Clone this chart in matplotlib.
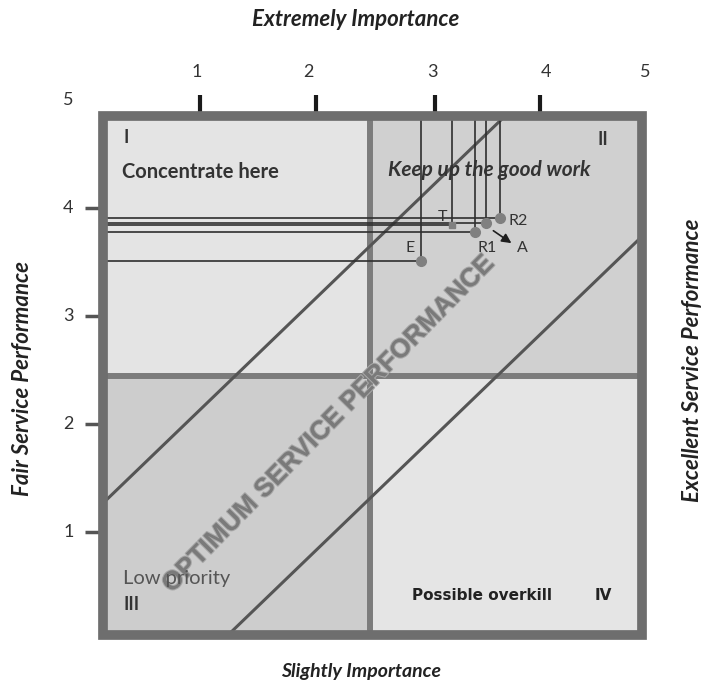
import matplotlib
matplotlib.use("Agg")
import matplotlib.pyplot as plt
import matplotlib.patheffects as pe
from matplotlib.patches import Rectangle

plt.rcParams['font.family'] = ['Lato', 'DejaVu Sans']

# quadrant split (importance, performance)
x_split = 2.48
y_split = 2.5

# diagonal band edges: performance = importance + offset
band_offsets = [1.27, -1.16]

# service points
point_names = ['E', 'T', 'R1', 'A', 'R2']
point_x = [2.95, 3.24, 3.45, 3.55, 3.68]
point_y = [3.60, 3.95, 3.88, 3.97, 4.02]
point_marker = ['o', 's', 'o', 'o', 'o']
label_x = [2.85, 3.15, 3.56, 3.89, 3.85]
label_y = [3.73, 4.03, 3.73, 3.73, 3.99]
arrow_from = (3.60, 3.91)
arrow_to = (3.81, 3.76)

# axis ticks
top_ticks = [0.90, 1.98, 3.08, 4.05]
top_label_pos = [0.87, 1.91, 3.06, 4.11, 5.03]
top_labels = ['1', '2', '3', '4', '5']
left_ticks = [0.99, 2.03, 3.07, 4.11]
left_label_pos = [0.99, 2.03, 3.07, 4.11, 5.15]
left_labels = ['1', '2', '3', '4', '5']

fig = plt.figure(figsize=(7.03, 6.88), dpi=100)
ax = fig.add_axes([0.1465, 0.0770, 0.7667, 0.7544])
ax.set_xlim(0, 5)
ax.set_ylim(0, 5)
for s in ax.spines.values():
    s.set_visible(False)

# quadrants
ax.fill_between([0, x_split], y_split, 5, color='#e4e4e4', lw=0, zorder=0)
ax.fill_between([x_split, 5], y_split, 5, color='#d0d0d0', lw=0, zorder=0)
ax.fill_between([0, x_split], 0, y_split, color='#cdcdcd', lw=0, zorder=0)
ax.fill_between([x_split, 5], 0, y_split, color='#e5e5e5', lw=0, zorder=0)

# dividers
ax.axvline(x_split, color='#7c7c7c', lw=4.3, zorder=1)
ax.axhline(y_split, color='#7c7c7c', lw=4.3, zorder=1)

# diagonal band
for off in band_offsets:
    ax.plot([0, 5], [off, 5 + off], color='#555555', lw=2.2, zorder=1.5)

ax.text(2.09, 2.03, 'OPTIMUM SERVICE PERFORMANCE', rotation=45.5, rotation_mode='anchor',
        ha='center', va='center', fontsize=19, fontweight='bold', color='#7a7a7a',
        family='Liberation Sans', zorder=2,
        path_effects=[pe.withStroke(linewidth=1.5, foreground='#a8a8a8')])

# guide lines and points
ax.hlines(point_y, 0, point_x, color='#2e2e2e', lw=1.2, zorder=2.2)
ax.vlines(point_x, point_y, 5, color='#2e2e2e', lw=1.2, zorder=2.2)
for px, py, m in zip(point_x, point_y, point_marker):
    ax.plot(px, py, marker=m, color='#808080', ms=7 if m == 'o' else 5, zorder=2.4)
for name, lx, ly in zip(point_names, label_x, label_y):
    ax.text(lx, ly, name, ha='center', va='center', fontsize=11.5, color='#333333', zorder=2.5)
ax.annotate('', xy=arrow_to, xytext=arrow_from,
            arrowprops=dict(arrowstyle='-|>', color='#1e1e1e', lw=1.2, mutation_scale=14), zorder=2.5)

# quadrant labels
ax.text(0.19, 4.79, 'I', fontsize=13, fontweight='bold', color='#333333', ha='left', va='center')
ax.text(0.18, 4.46, 'Concentrate here', fontsize=14.5, fontweight='bold', color='#333333', ha='left', va='center')
ax.text(4.59, 4.77, 'II', fontsize=13, fontweight='bold', color='#333333', ha='left', va='center')
ax.text(3.58, 4.48, 'Keep up the good work', fontsize=15, fontweight='bold', style='italic',
        color='#333333', ha='center', va='center')
ax.text(0.19, 0.54, 'Low priority', fontsize=14.5, color='#555555', ha='left', va='center')
ax.text(0.19, 0.29, 'III', fontsize=13, fontweight='bold', color='#333333', ha='left', va='center')
ax.text(2.87, 0.385, 'Possible overkill', fontsize=11, fontweight='bold', color='#222222',
        family='DejaVu Sans', ha='left', va='center')
ax.text(4.56, 0.385, 'IV', fontsize=11, fontweight='bold', color='#222222',
        family='DejaVu Sans', ha='left', va='center')

# frame
ax.add_patch(Rectangle((0, 0), 1, 1, transform=ax.transAxes, fill=False, lw=7.0,
                       edgecolor='#6e6e6e', joinstyle='miter', clip_on=False, zorder=3))

# ticks
ax.xaxis.tick_top()
ax.set_xticks(top_ticks)
ax.set_xticklabels([])
ax.tick_params(axis='x', direction='out', length=15, width=3, color='#1a1a1a')
ax.set_yticks(left_ticks)
ax.set_yticklabels([])
ax.tick_params(axis='y', direction='out', length=13, width=2.5, color='#555555')

for pos, lab in zip(top_label_pos, top_labels):
    ax.text(pos, 5.42, lab, ha='center', va='center', fontsize=13, color='#333333', clip_on=False)
for pos, lab in zip(left_label_pos, left_labels):
    ax.text(-0.32, pos, lab, ha='center', va='center', fontsize=13, color='#333333', clip_on=False)

# axis titles
fig.text(356 / 703, 1 - 20 / 688, 'Extremely Importance', ha='center', va='center',
         fontsize=16, fontweight='bold', style='italic', color='#222222')
fig.text(361 / 703, 1 - 672 / 688, 'Slightly Importance', ha='center', va='center',
         fontsize=14, fontweight='bold', style='italic', color='#222222')
fig.text(23 / 703, 1 - 378 / 688, 'Fair Service Performance', ha='center', va='center',
         rotation=90, fontsize=16, fontweight='bold', style='italic', color='#222222')
fig.text(692 / 703, 1 - 360 / 688, 'Excellent Service Performance', ha='center', va='center',
         rotation=90, fontsize=16, fontweight='bold', style='italic', color='#222222')

fig.savefig('out.png', dpi=100)
